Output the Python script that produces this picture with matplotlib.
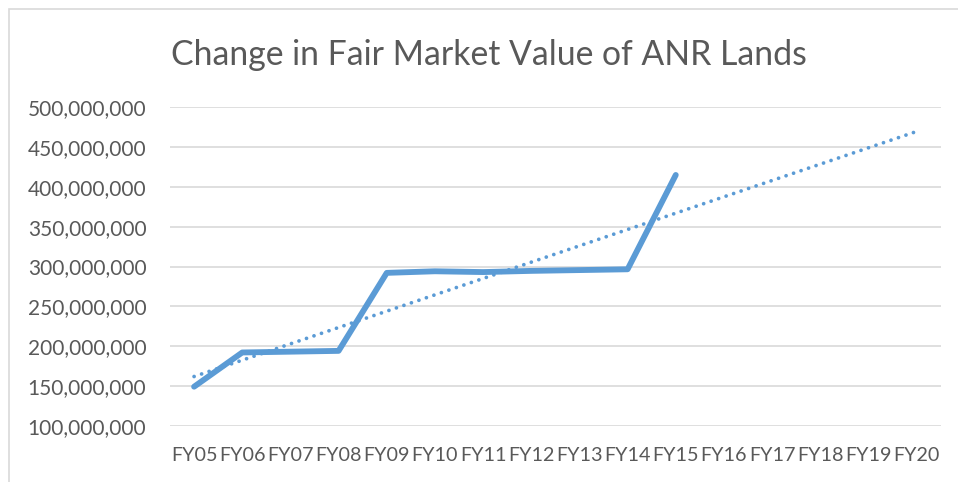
import matplotlib
matplotlib.use('Agg')
import matplotlib.pyplot as plt
from matplotlib.patches import Rectangle
import numpy as np

categories = ['FY05', 'FY06', 'FY07', 'FY08', 'FY09', 'FY10', 'FY11', 'FY12',
              'FY13', 'FY14', 'FY15', 'FY16', 'FY17', 'FY18', 'FY19', 'FY20']
fmv = [149e6, 192e6, 193e6, 194e6, 292e6, 294e6, 293e6, 294.5e6,
       295.5e6, 296.5e6, 415e6]
yticks = [100e6, 150e6, 200e6, 250e6, 300e6, 350e6, 400e6, 450e6, 500e6]

blue = '#5B9BD5'
grey_text = '#595959'
plt.rcParams['font.family'] = ['Lato', 'DejaVu Sans']

fig = plt.figure(figsize=(9.58, 4.82), dpi=100)
fig.patches.append(Rectangle((9 / 958, -0.1), 1.2, 1 - 9 / 482 + 0.1,
                             transform=fig.transFigure, fill=False,
                             edgecolor='#D9D9D9', lw=1.2))

ax = fig.add_axes([170 / 958, 1 - 425.7 / 482, 770.7 / 958, 318.4 / 482])

x = np.arange(len(fmv))
ax.plot(x, fmv, color=blue, lw=4.2, solid_joinstyle='round',
        solid_capstyle='round', zorder=3)

# linear trendline over the data, extended to the last category
coef = np.polyfit(x, fmv, 1)
xt = np.arange(len(categories))
ax.plot(xt, np.polyval(coef, xt), color=blue, lw=2.7, linestyle=(0, (0.01, 2.1)),
        dash_capstyle='round', zorder=2)

ax.set_xlim(-0.5, len(categories) - 0.5)
ax.set_ylim(yticks[0], yticks[-1])
ax.set_yticks(yticks)
ax.set_yticklabels([f'{int(v):,}' for v in yticks])
ax.set_xticks(xt)
ax.set_xticklabels(categories)
ax.grid(axis='y', color='#D9D9D9', lw=1.2)
ax.set_axisbelow(True)
for s in ax.spines.values():
    s.set_visible(False)
ax.tick_params(axis='y', length=0, pad=17, labelsize=15, labelcolor=grey_text)
ax.tick_params(axis='x', length=0, pad=15, labelsize=14.2, labelcolor=grey_text)

fig.text(489 / 958, 1 - 65 / 482, 'Change in Fair Market Value of ANR Lands',
         ha='center', va='baseline', fontsize=24.3, color=grey_text)

fig.savefig('out.png', dpi=100)
